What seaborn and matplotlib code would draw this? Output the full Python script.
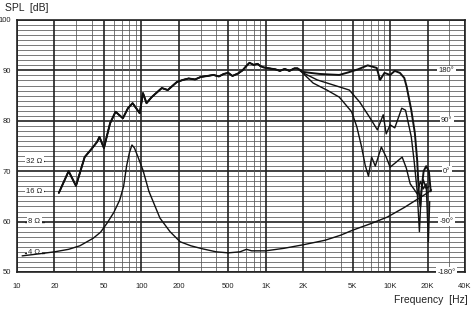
import matplotlib
matplotlib.use("Agg")
import matplotlib.pyplot as plt
import seaborn as sns
import numpy as np
import pandas as pd

# ---------------- data ----------------
# shared low/mid-frequency part of the SPL response
spl_base_f = [21.7, 26, 29.8, 35, 40, 44, 46, 50, 56, 62, 71, 78, 85, 97, 103, 110,
              121, 146, 163, 193, 215, 240, 270, 300, 340, 380, 420, 460, 500, 540,
              600, 650, 700, 740, 800, 860, 900, 960, 1070, 1200, 1300, 1420, 1550,
              1700, 1800]
spl_base_db = [65.7, 70.0, 67.1, 72.8, 74.5, 75.8, 76.8, 74.6, 79.5, 81.8, 80.5, 82.5,
               83.5, 81.5, 85.5, 83.5, 84.7, 86.5, 86.1, 87.7, 88.1, 88.4, 88.2, 88.7,
               88.9, 89.1, 88.8, 89.3, 89.5, 88.9, 89.4, 90.0, 90.9, 91.5, 91.1, 91.3,
               90.9, 90.6, 90.4, 90.2, 89.9, 90.3, 89.9, 90.4, 90.4]

# on-axis (0 deg) high-frequency part
spl0_f = [2000, 2300, 2700, 3200, 3900, 4600, 5500, 6600, 7800, 8300, 9000, 10000,
          10900, 12000, 13000, 13600, 14800, 15800, 16500, 17000, 17500, 18000, 18600,
          19500, 20500, 21200]
spl0_db = [89.7, 89.5, 89.3, 89.2, 89.1, 89.6, 90.2, 91.0, 90.5, 88.1, 89.5, 89.1,
           89.9, 89.5, 88.5, 86.7, 82.1, 77.6, 72.2, 66.0, 63.0, 67.0, 70.0, 71.0,
           70.0, 66.0]

# 30 deg off-axis high-frequency part
spl30_f = [2000, 2600, 3500, 4700, 5700, 6800, 7900, 8800, 9300, 10000, 10900, 12400,
           13300, 14800, 15600, 16500, 17200, 17800, 18500, 19500, 20500]
spl30_db = [89.5, 88.1, 87.1, 86.1, 83.7, 80.8, 78.2, 81.2, 77.4, 79.2, 78.6, 82.5,
            82.1, 76.8, 72.0, 66.0, 58.0, 66.0, 68.3, 66.5, 67.0]

# 60 deg off-axis high-frequency part
spl60_f = [2000, 2400, 3100, 3900, 4900, 5400, 5900, 6300, 6700, 7100, 7600, 8500,
           9300, 10000, 11200, 12500, 13500, 14500, 15500, 16500, 17500, 18500, 19500,
           20300, 20800]
spl60_db = [89.4, 87.5, 86.1, 84.7, 81.8, 78.8, 74.8, 71.2, 69.0, 72.8, 71.0, 74.8,
            72.8, 70.8, 71.8, 72.8, 70.6, 67.5, 66.5, 65.5, 68.0, 66.5, 67.5, 56.0,
            64.0]

# impedance curve (plotted on the dB grid, 6 dB per octave of ohms)
imp_f = [11, 15, 20, 26, 32, 41, 47, 53, 60, 67, 72, 76, 80, 84, 88, 94, 103, 115,
         141, 170, 205, 250, 310, 400, 500, 620, 700, 770, 1000, 1400, 2000, 3000,
         4000, 5000, 7000, 9500, 13000, 16000, 20000, 21500]
imp_db = [53.2, 53.6, 54.0, 54.5, 55.2, 56.7, 57.9, 59.7, 61.8, 64.3, 67.0, 71.0,
          73.6, 75.2, 74.6, 72.8, 70.2, 66.0, 60.7, 58.0, 56.0, 55.2, 54.6, 54.0,
          53.8, 54.0, 54.5, 54.2, 54.2, 54.7, 55.4, 56.3, 57.3, 58.3, 59.6, 60.9,
          62.8, 64.2, 65.7, 66.3]

x_ticks = [10, 20, 50, 100, 200, 500, 1000, 2000, 5000, 10000, 20000, 40000]
x_tick_labels = ["10", "20", "50", "100", "200", "500", "1K", "2K", "5K", "10K",
                 "20K", "40K"]
y_ticks = [50, 60, 70, 80, 90, 100]
phase_labels = ["-180°", "-90°", "0°", "90°", "180°"]
phase_pos = [50, 60, 70, 80, 90]
ohm_labels = ["4 Ω", "8 Ω", "16 Ω", "32 Ω"]
ohm_pos = [53.8, 60, 66, 72]

# ---------------- figure ----------------
sns.set_theme(style="white")
plt.rcParams["font.family"] = ["Liberation Sans", "DejaVu Sans"]

fig = plt.figure(figsize=(4.74, 3.11), dpi=100)
ax = fig.add_axes([17 / 474, 1 - 272 / 311, (465 - 17) / 474, (272 - 20) / 311])
ax.set_xscale("log")
ax.set_xlim(10, 40000)
ax.set_ylim(50, 100)

# grid lines
for db in range(50, 101):
    major = db % 10 == 0
    ax.axhline(db, color="#222222" if major else "#555555",
               lw=1.2 if major else 0.55, zorder=1)
for dec in [10, 100, 1000, 10000]:
    for m in range(1, 10):
        f = dec * m
        if f > 40000:
            continue
        major = m in (1, 2, 5)
        ax.axvline(f, color="#222222" if major else "#555555",
                   lw=1.2 if major else 0.55, zorder=1)
ax.axvline(40000, color="#222222", lw=1.2, zorder=1)

for s in ax.spines.values():
    s.set_color("#222222")
    s.set_linewidth(1.2)

# curves
def draw(fs, dbs, lw):
    df = pd.DataFrame({"f": fs, "db": dbs})
    sns.lineplot(data=df, x="f", y="db", ax=ax, color="#111111", lw=lw,
                 sort=False, estimator=None, zorder=5)

draw(spl_base_f + spl60_f, spl_base_db + spl60_db, 1.0)
draw(spl_base_f + spl30_f, spl_base_db + spl30_db, 1.0)
draw(spl_base_f + spl0_f, spl_base_db + spl0_db, 1.4)
draw(imp_f, imp_db, 1.0)

ax.set_xlabel("")
ax.set_ylabel("")
ax.set_xticks(x_ticks)
ax.set_xticklabels(x_tick_labels)
ax.set_yticks(y_ticks)
ax.set_yticklabels([str(v) for v in y_ticks])
ax.minorticks_off()
ax.tick_params(axis="both", length=0, labelsize=5.5, colors="#222222")
ax.tick_params(axis="x", pad=8)
ax.tick_params(axis="y", pad=4)

# phase labels (right side)
for lab, pos in zip(phase_labels, phase_pos):
    ax.text(28500, pos, lab, fontsize=5.5, ha="center", va="center",
            color="#222222", zorder=6,
            bbox=dict(facecolor="white", edgecolor="none", pad=1.0))

# impedance labels (left side)
for lab, pos in zip(ohm_labels, ohm_pos):
    ax.plot([11.5, 16.5], [pos, pos], color="#222222", lw=1.0, zorder=2)
    ax.text(13.8, pos, lab, fontsize=5.5, ha="center", va="center",
            color="#222222", zorder=3,
            bbox=dict(facecolor="white", edgecolor="none", pad=0.8))

fig.text(5 / 474, 1 - 8 / 311, "SPL  [dB]", fontsize=7.5, ha="left", va="center",
         color="#222222")
fig.text(468 / 474, 1 - 300 / 311, "Frequency  [Hz]", fontsize=7.5, ha="right",
         va="center", color="#222222")

fig.savefig("out.png", dpi=100, facecolor="white")
